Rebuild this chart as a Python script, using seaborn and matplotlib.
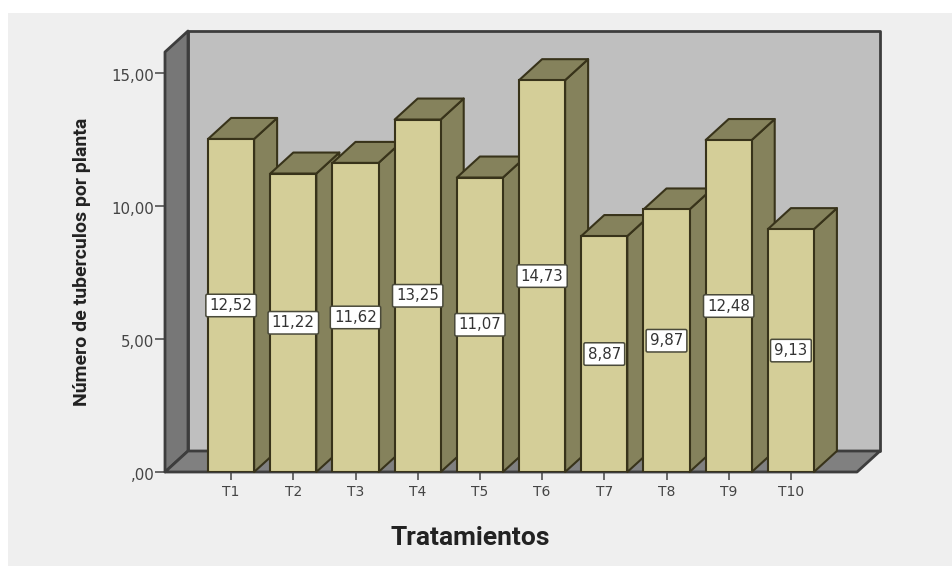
import matplotlib
matplotlib.use("Agg")
import matplotlib.pyplot as plt
from matplotlib.patches import Polygon, Rectangle
from matplotlib.transforms import ScaledTranslation
import seaborn as sns

# Mean tuber count per treatment
treatments = ["T1", "T2", "T3", "T4", "T5", "T6", "T7", "T8", "T9", "T10"]
tubers = [12.52, 11.22, 11.62, 13.25, 11.07, 14.73, 8.87, 9.87, 12.48, 9.13]
y_ticks = [0, 5, 10, 15]
y_tick_labels = [",00", "5,00", "10,00", "15,00"]

W, H = 952, 566
AX_L, AX_R, AX_T, AX_B = 165, 857, 52, 472
UNITS_PER_SLOT = 62.2
PX_PER_VALUE = 26.6
DEPTH_PX_X, DEPTH_PX_Y = 23, 21
BAR_WIDTH = 0.74

FRONT = "#d4ce98"
SHADE = "#85825c"
BAR_EDGE = "#38331a"
WALL = "#bfbfbf"
SIDE_WALL = "#777777"
FLOOR = "#808080"
FRAME = "#3d3d3d"
TEXT = "#444444"

sns.set_theme(style="white")
fig = plt.figure(figsize=(W / 100, H / 100), dpi=100, facecolor="white")
fig.add_artist(Rectangle((8 / W, 0), 1 - 8 / W, 1 - 13 / H, transform=fig.transFigure,
                         facecolor="#efefef", edgecolor="none", zorder=-1))
ax = fig.add_axes([AX_L / W, 1 - AX_B / H, (AX_R - AX_L) / W, (AX_B - AX_T) / H])
ax.patch.set_visible(False)

sns.barplot(x=treatments, y=tubers, color=FRONT, saturation=1, width=BAR_WIDTH,
            edgecolor=BAR_EDGE, linewidth=1.5, ax=ax)

x_pad = (AX_R - AX_L) / UNITS_PER_SLOT / 2 - 4.5
x0, x1 = -x_pad, 9 + x_pad
y1 = (AX_B - AX_T) / PX_PER_VALUE
ax.set_xlim(x0, x1)
ax.set_ylim(0, y1)
dx = DEPTH_PX_X / UNITS_PER_SLOT
dy = DEPTH_PX_Y / PX_PER_VALUE


def face(points, color, edge, lw, z):
    ax.add_patch(Polygon(points, closed=True, facecolor=color, edgecolor=edge,
                         linewidth=lw, zorder=z, clip_on=False, joinstyle="round"))


# Box behind the bars: back wall, left wall and floor
face([(x0 + dx, dy), (x1 + dx, dy), (x1 + dx, y1 + dy), (x0 + dx, y1 + dy)], WALL, FRAME, 2, 0.5)
face([(x0, 0), (x0 + dx, dy), (x0 + dx, y1 + dy), (x0, y1)], SIDE_WALL, FRAME, 2, 0.6)
face([(x0, 0), (x1, 0), (x1 + dx, dy), (x0 + dx, dy)], FLOOR, FRAME, 2, 0.6)

# Extrude each bar; later bars overlap the side of the one before
for i, (bar, value) in enumerate(zip(ax.patches[:len(tubers)], tubers)):
    z = 3 + i
    bar.set_zorder(z + 0.5)
    left = bar.get_x()
    right = left + bar.get_width()
    face([(right, 0), (right + dx, dy), (right + dx, value + dy), (right, value)],
         SHADE, BAR_EDGE, 1.5, z)
    face([(left, value), (right, value), (right + dx, value + dy), (left + dx, value + dy)],
         SHADE, BAR_EDGE, 1.5, z)
    ax.text(i, value / 2, f"{value:.2f}".replace(".", ","), ha="center", va="center",
            color="#333333", fontsize=10.8, family="DejaVu Sans", zorder=30,
            bbox=dict(boxstyle="round,pad=0.25,rounding_size=0.1", facecolor="white",
                      edgecolor="#4a4a3a", linewidth=1.1))

sns.despine(ax=ax, left=True, bottom=True)
ax.set_yticks(y_ticks, y_tick_labels)
ax.tick_params(axis="y", length=7.2, width=1.1, color=TEXT, labelcolor=TEXT, labelsize=10.8,
               pad=0.5, left=True)
ax.tick_params(axis="x", length=6, width=1.1, color=TEXT, labelcolor=TEXT, labelsize=10,
               pad=3, bottom=True)
for label in ax.get_xticklabels() + ax.get_yticklabels():
    label.set_family("DejaVu Sans")
# The value labels sit a little under their tick marks
nudge = ScaledTranslation(0, -2 / 100, fig.dpi_scale_trans)
for label in ax.get_yticklabels():
    label.set_transform(label.get_transform() + nudge)

title_font = ["Roboto", "Liberation Sans"]
ax.set_xlabel("Tratamientos", fontsize=19, fontweight="bold", family=title_font,
              color="#222222", va="center")
ax.xaxis.set_label_coords((470 - AX_L) / (AX_R - AX_L), (AX_B - 538) / (AX_B - AX_T))
ax.set_ylabel("Número de tuberculos por planta", fontsize=14, fontweight="bold",
              family=title_font, color="#222222", va="center")
ax.yaxis.set_label_coords((82 - AX_L) / (AX_R - AX_L), (AX_B - 262) / (AX_B - AX_T))

fig.savefig("out.png", dpi=100, facecolor="white")
